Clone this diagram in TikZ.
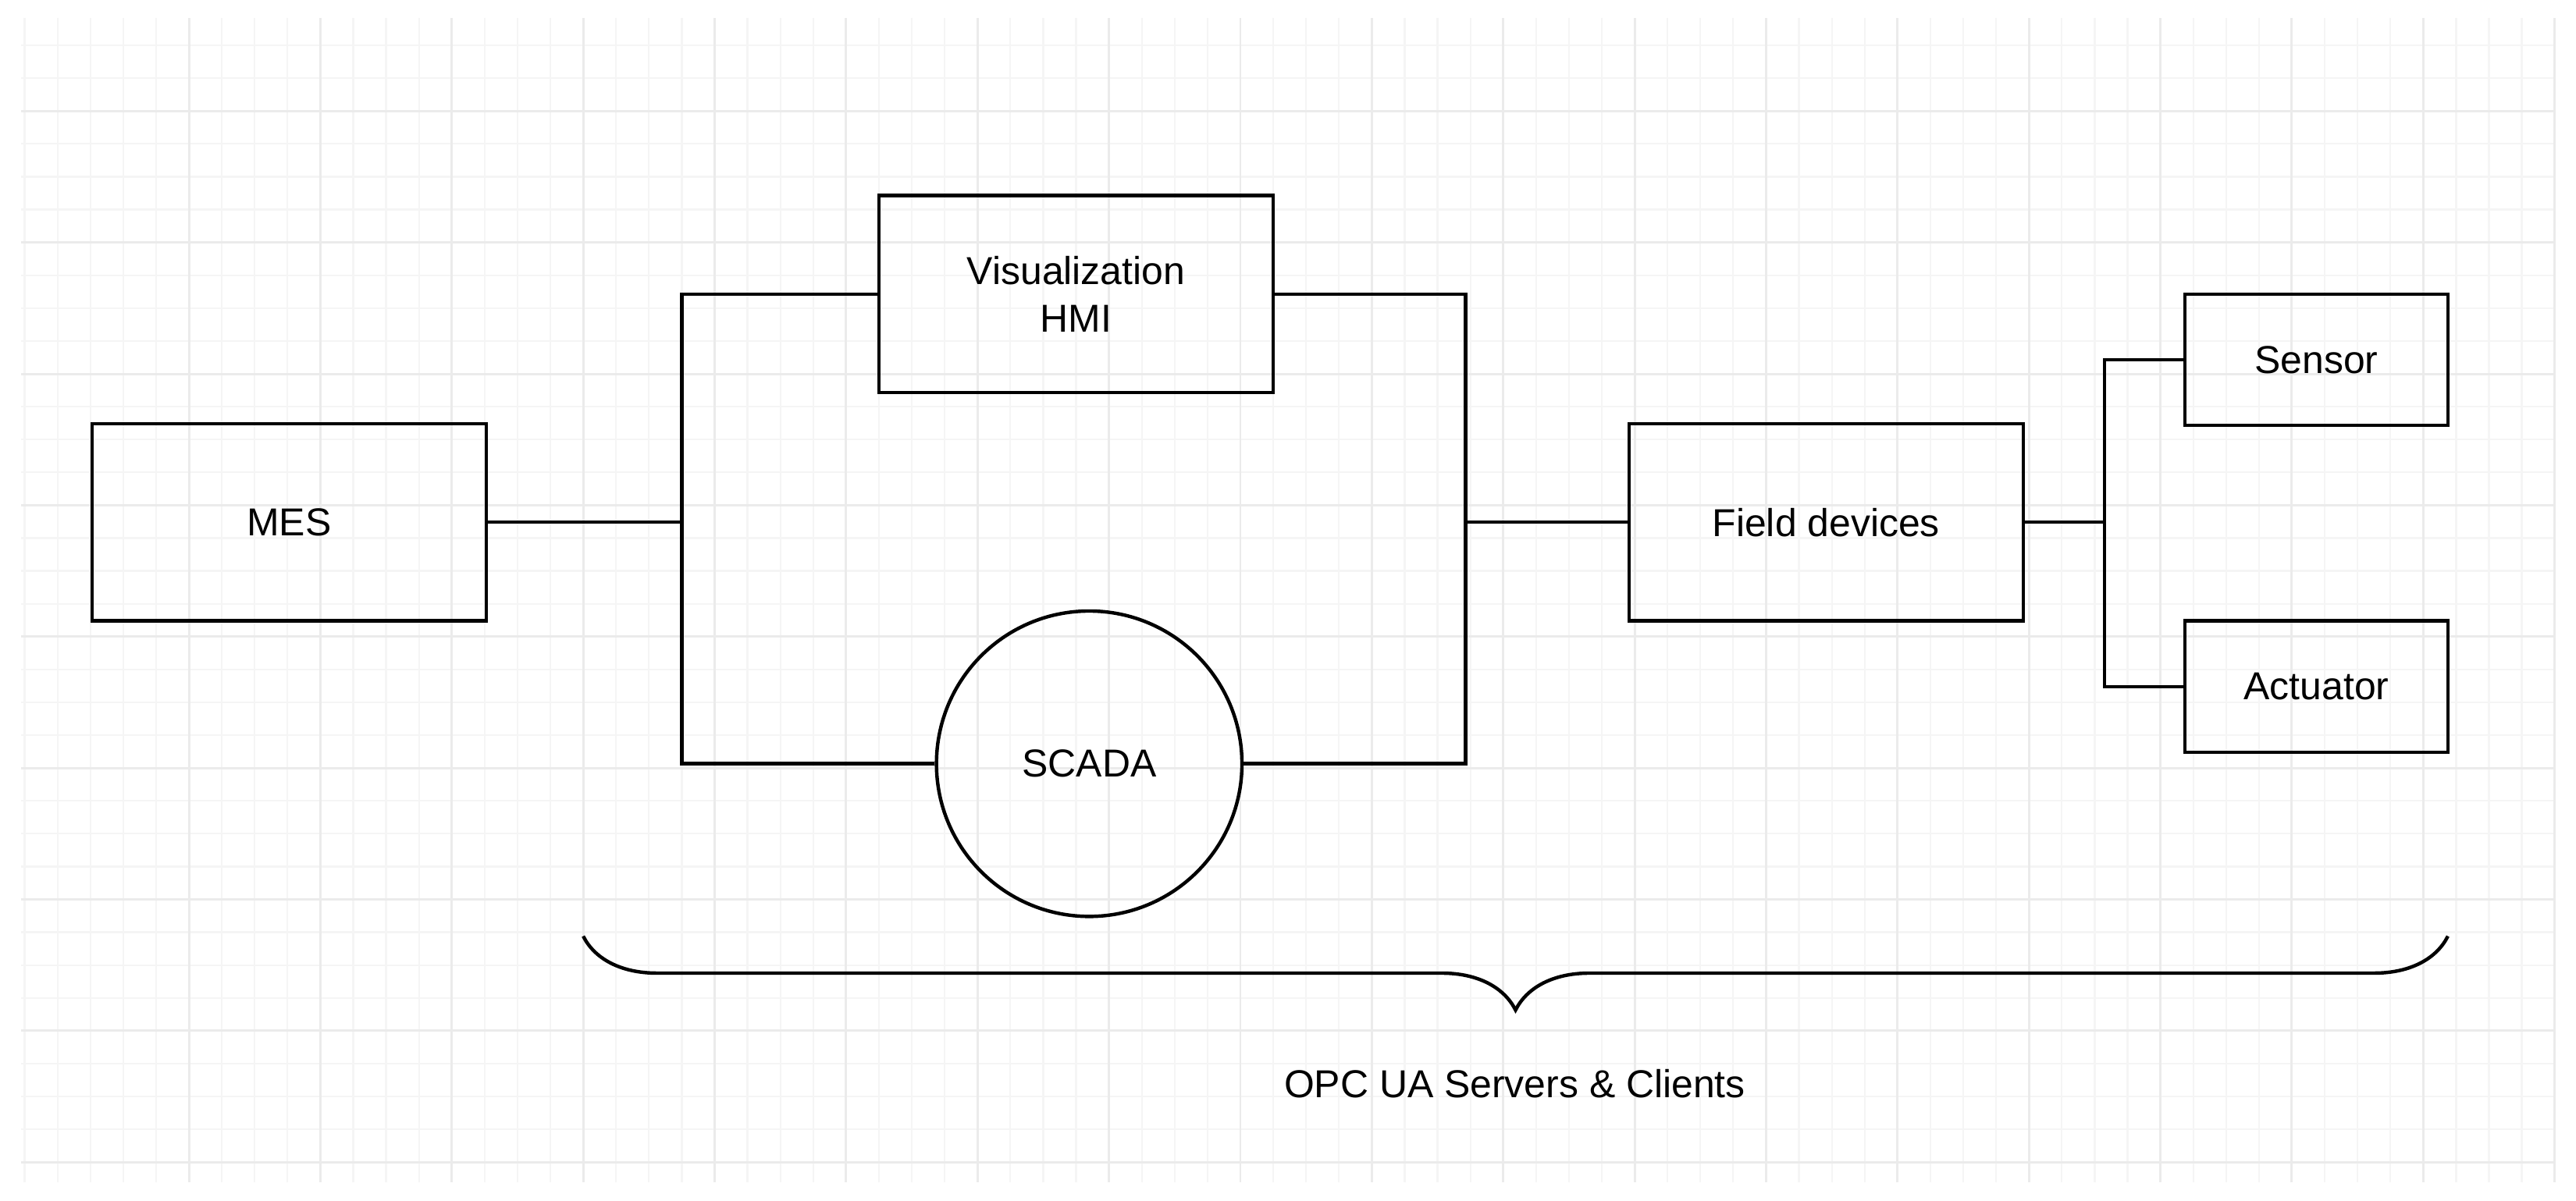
\documentclass[tikz,border=0pt]{standalone}
\usepackage{fontspec}
\setmainfont{Liberation Sans}
\usetikzlibrary{decorations.pathreplacing}
\begin{document}
\begin{tikzpicture}[x=0.02cm,y=-0.02cm,
  txt/.style={font=\fontsize{13.5}{16.5}\selectfont},
  box/.style={draw,line width=1.2pt,minimum width=4.8cm,minimum height=2.4cm,inner sep=0pt,txt,align=center},
  sbox/.style={box,minimum width=3.2cm,minimum height=1.6cm},
  wire/.style={line width=1.2pt}]
\useasboundingbox (0,0) rectangle (1568,731);
\fill[white] (0,0) rectangle (1568,731);
\foreach \x in {15,35,...,1555} \draw[color=black!4,line width=0.6pt] (\x,11) -- (\x,720);
\foreach \y in {27.6,47.6,...,720} \draw[color=black!4,line width=0.6pt] (13,\y) -- (1555,\y);
\foreach \x in {115,195,...,1555} \draw[color=black!8,line width=0.8pt] (\x,11) -- (\x,720);
\foreach \y in {67.6,147.6,...,720} \draw[color=black!8,line width=0.8pt] (13,\y) -- (1555,\y);
\node[box] (mes) at (176,318) {MES};
\node[box] (hmi) at (655,179) {Visualization\\HMI};
\node[draw,circle,line width=1.2pt,minimum size=3.72cm,inner sep=0pt,txt] (scada) at (663,465) {SCADA};
\node[box] (fd) at (1111.5,318) {Field devices};
\node[sbox] (sen) at (1410,219) {Sensor};
\node[sbox] (act) at (1410,418) {Actuator};
\coordinate (jl) at (415,318);
\coordinate (jr) at (892,318);
\coordinate (js) at (1281,318);
\draw[wire] (mes.east) -- (jl);
\draw[wire] (hmi.west) -| (jl) |- (scada.west);
\draw[wire] (hmi.east) -| (jr) |- (scada.east);
\draw[wire] (jr) -- (fd.west);
\draw[wire] (fd.east) -- (js);
\draw[wire] (sen.west) -| (js) |- (act.west);
\coordinate (bl) at (355,570);
\coordinate (br) at (1490,570);
\draw[line width=1.2pt,decorate,decoration={brace,mirror,amplitude=0.9cm}] (bl) -- (br);
\node[txt] (opc) at (922,660) {OPC UA Servers \& Clients};
\end{tikzpicture}
\end{document}
